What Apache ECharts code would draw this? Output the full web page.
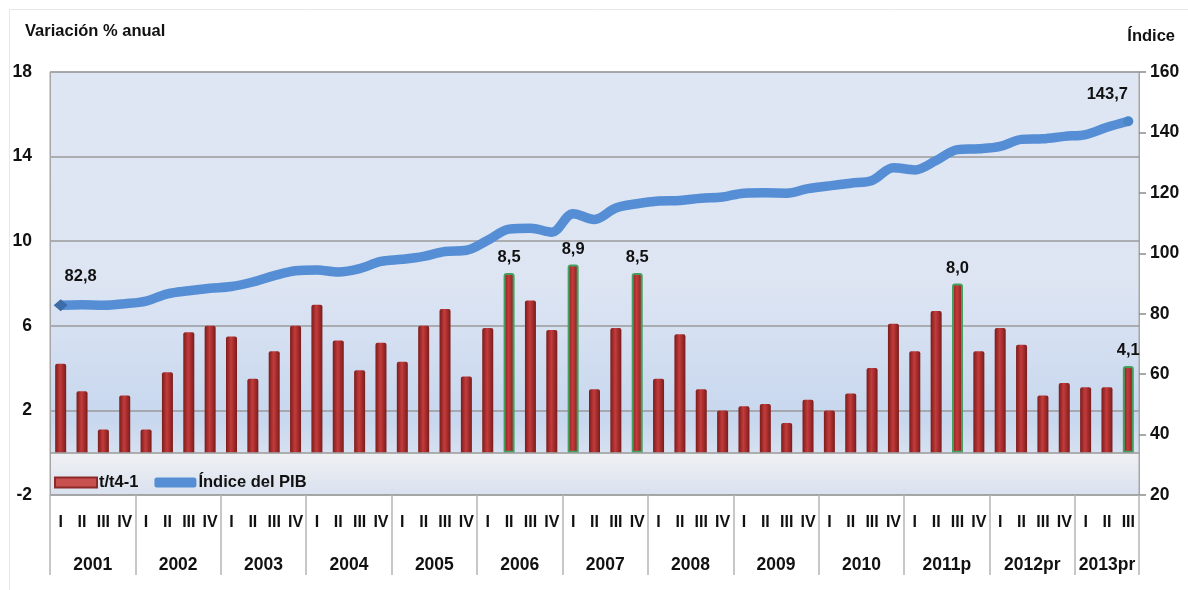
<!DOCTYPE html>
<html>
<head>
<meta charset="utf-8">
<script src="https://cdn.jsdelivr.net/npm/echarts@6/dist/echarts.min.js"></script>
<style>
html,body{margin:0;padding:0;background:#fff;}
#c{width:1188px;height:590px;}
</style>
</head>
<body>
<div id="c"></div>
<script>
const years = ['2001','2002','2003','2004','2005','2006','2007','2008','2009','2010','2011p','2012pr','2013pr'];
const quartersPerYear = [4,4,4,4,4,4,4,4,4,4,4,4,3];
const quarterNames = ['I','II','III','IV'];
const leftTicks = [-2, 2, 6, 10, 14, 18];
const rightTicks = [20, 40, 60, 80, 100, 120, 140, 160];

const barValues = [
  4.2, 2.9, 1.1, 2.7,
  1.1, 3.8, 5.7, 6.0,
  5.5, 3.5, 4.8, 6.0,
  7.0, 5.3, 3.9, 5.2,
  4.3, 6.0, 6.8, 3.6,
  5.9, 8.5, 7.2, 5.8,
  8.9, 3.0, 5.9, 8.5,
  3.5, 5.6, 3.0, 2.0,
  2.2, 2.3, 1.4, 2.5,
  2.0, 2.8, 4.0, 6.1,
  4.8, 6.7, 8.0, 4.8,
  5.9, 5.1, 2.7, 3.3,
  3.1, 3.1, 4.1
];
const pibValues = [
  82.8, 83.0, 82.8, 83.3,
  84.2, 86.6, 87.6, 88.4,
  89.0, 90.5, 92.6, 94.2,
  94.5, 93.8, 94.9, 97.3,
  98.0, 99.0, 100.6, 101.0,
  104.3, 108.0, 108.3, 107.0,
  113.1, 111.2, 115.0, 116.4,
  117.3, 117.5, 118.2, 118.6,
  119.9, 120.0, 119.9, 121.4,
  122.3, 123.2, 124.1, 128.3,
  127.6, 130.7, 134.3, 134.6,
  135.4, 137.7, 137.9, 138.7,
  139.3, 141.7, 143.7
];
const labeledBars = [21, 24, 27, 42, 50];
const labeledPoints = [0, 50];

// build categories
const categories = [];
const yearStarts = [];
let q = 0;
years.forEach((y, k) => {
  yearStarts.push(2 * q);
  for (let i = 0; i < quartersPerYear[k]; i++) { categories.push(quarterNames[i]); }
  q += quartersPerYear[k];
});
const nSlots = 2 * q + 1;
const yearAxisData = new Array(nSlots).fill('');
years.forEach((y, k) => { yearAxisData[yearStarts[k] + quartersPerYear[k]] = y; });
const boundarySlots = yearStarts.concat([2 * q]);

const fmt = v => String(v.toFixed(1)).replace('.', ',');
const FONT = '"Liberation Sans", Arial, sans-serif';

const redGrad = new echarts.graphic.LinearGradient(0, 0, 1, 0, [
  {offset: 0, color: '#7a1c1c'},
  {offset: 0.45, color: '#c53b3b'},
  {offset: 1, color: '#7a1c1c'}
]);
const lblStyle = {fontFamily: FONT, fontWeight: 'bold', fontSize: 16.5, color: '#111'};

const barData = barValues.map((v, i) => {
  if (labeledBars.indexOf(i) >= 0) {
    return {
      value: v,
      itemStyle: {borderColor: '#45a060', borderWidth: 2},
      label: Object.assign({show: true, position: 'top', distance: 7, formatter: p => fmt(p.value)}, lblStyle)
    };
  }
  return v;
});

const lineData = pibValues.map((v, i) => {
  if (i === labeledPoints[0]) {
    return {value: v, symbol: 'diamond', symbolSize: [14, 12],
      itemStyle: {color: '#3d6ca8'},
      label: Object.assign({show: true, formatter: p => fmt(p.value), position: 'top', offset: [20, -9]}, lblStyle)};
  }
  if (i === labeledPoints[1]) {
    return {value: v, symbol: 'circle', symbolSize: 10,
      itemStyle: {color: '#4a86c8'},
      label: Object.assign({show: true, formatter: p => fmt(p.value), position: 'top', offset: [-21, -8]}, lblStyle)};
  }
  return {value: v, symbol: 'none'};
});

const chart = echarts.init(document.getElementById('c'), null, {renderer: 'canvas'});
chart.setOption({
  animation: false,
  backgroundColor: '#ffffff',
  textStyle: {fontFamily: FONT},
  graphic: [{
    type: 'rect', left: 7, top: 7, shape: {width: 1200, height: 590},
    style: {fill: 'none', stroke: '#e8e8e8', lineWidth: 1}, silent: true, z: -1
  }],
  title: [
    {text: 'Variación % anual', left: 25, top: 23, padding: 0,
      textStyle: {fontFamily: FONT, fontWeight: 'bold', fontSize: 16.5, color: '#111'}},
    {text: 'Índice', right: 13, top: 28, padding: 0,
      textStyle: {fontFamily: FONT, fontWeight: 'bold', fontSize: 16.5, color: '#111'}}
  ],
  legend: {
    left: 49, top: 469, itemWidth: 42, itemHeight: 10, itemGap: 16,
    textStyle: {fontFamily: FONT, fontWeight: 'bold', fontSize: 16.5, color: '#111', padding: [0, 0, 0, -3]},
    data: [
      {name: 't/t4-1', icon: 'rect', itemStyle: {color: '#c8504f', borderColor: '#8a2a2a', borderWidth: 2}},
      {name: 'Índice del PIB', icon: 'roundRect', itemStyle: {color: '#558ed5'}}
    ]
  },
  grid: {
    left: 50, right: 49, top: 72, bottom: 95, show: true,
    borderColor: '#a6a6a6', borderWidth: 1,
    backgroundColor: new echarts.graphic.LinearGradient(0, 0, 0, 1, [
      {offset: 0, color: '#dfe6f3'},
      {offset: 0.5, color: '#dde5f3'},
      {offset: 0.82, color: '#c7d7ee'},
      {offset: 0.898, color: '#d6e0f0'},
      {offset: 0.902, color: '#eff0f3'},
      {offset: 1, color: '#d9e1ef'}
    ])
  },
  xAxis: [
    {
      type: 'category', data: categories, position: 'bottom',
      axisLine: {show: true, onZero: false, lineStyle: {color: '#a6a6a6'}},
      axisTick: {show: false},
      axisLabel: {interval: 0, margin: 20, fontFamily: FONT, fontWeight: 'bold', fontSize: 16, color: '#111'}
    },
    {
      type: 'category', data: yearAxisData, position: 'bottom', boundaryGap: false,
      axisLine: {show: false, onZero: false},
      axisTick: {show: true, inside: false, length: 80,
        interval: (idx) => boundarySlots.indexOf(idx) >= 0,
        lineStyle: {color: '#b5b5b5', width: 1.5}},
      axisLabel: {interval: (idx, val) => val !== '', margin: 61,
        fontFamily: FONT, fontWeight: 'bold', fontSize: 17.5, color: '#111'}
    }
  ],
  yAxis: [
    {
      type: 'value', min: -2, max: 18, interval: 2, position: 'left',
      axisLine: {show: true, lineStyle: {color: '#a6a6a6'}},
      axisTick: {show: false},
      axisLabel: {margin: 18, fontFamily: FONT, fontWeight: 'bold', fontSize: 17.5, color: '#111',
        formatter: v => (leftTicks.indexOf(v) >= 0 ? String(v) : '')},
      splitLine: {show: true, lineStyle: {color: ['#9a9a9a', 'rgba(0,0,0,0)'], width: 1.5}}
    },
    {
      type: 'value', min: 20, max: 160, interval: 20, position: 'right',
      axisLine: {show: true, lineStyle: {color: '#a6a6a6'}},
      axisTick: {show: true, inside: false, length: 7, lineStyle: {color: '#8c8c8c', width: 1.5}},
      axisLabel: {margin: 11, fontFamily: FONT, fontWeight: 'bold', fontSize: 17.5, color: '#111',
        formatter: v => (rightTicks.indexOf(v) >= 0 ? String(v) : '')},
      splitLine: {show: false}
    }
  ],
  series: [
    {
      name: 't/t4-1', type: 'bar', xAxisIndex: 0, yAxisIndex: 0,
      barWidth: 11, data: barData,
      itemStyle: {color: redGrad, borderRadius: [2, 2, 0, 0]},
      markLine: {
        silent: true, symbol: 'none', label: {show: false},
        lineStyle: {color: '#9a9a9a', width: 1.5, type: 'solid'},
        data: [{yAxis: 0}]
      },
      z: 3
    },
    {
      name: 'Índice del PIB', type: 'line', xAxisIndex: 0, yAxisIndex: 1,
      smooth: 0.35, data: lineData, showSymbol: true,
      lineStyle: {color: '#558ed5', width: 9.5},
      itemStyle: {color: '#558ed5'},
      z: 4
    }
  ]
});
</script>
</body>
</html>
